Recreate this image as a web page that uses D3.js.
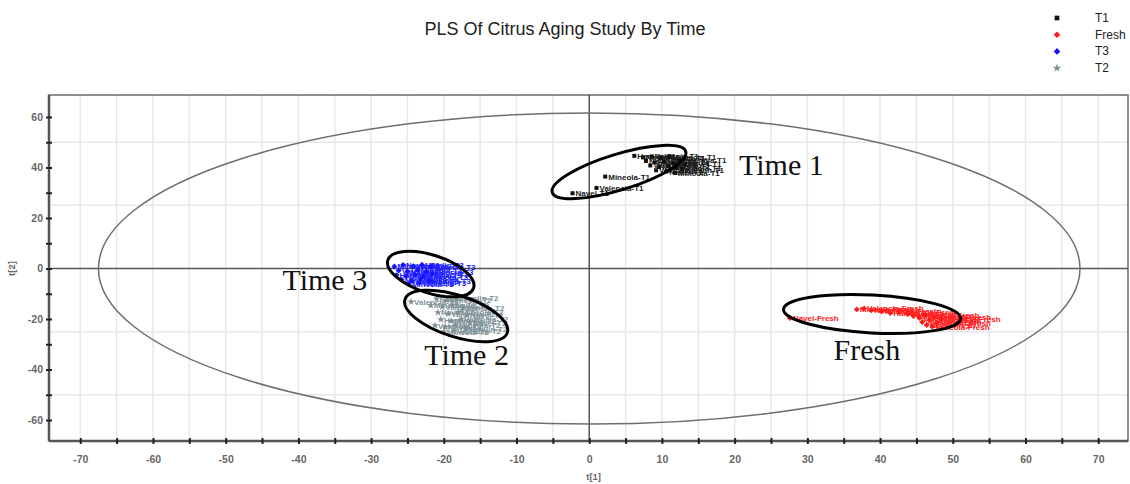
<!DOCTYPE html>
<html>
<head>
<meta charset="utf-8">
<script src="https://cdn.jsdelivr.net/npm/d3@7"></script>
<style>
  body { margin: 0; background: #fff; }
  svg { display: block; font-family: "Liberation Sans", Arial, sans-serif; }
</style>
</head>
<body>
<svg id="chart" width="1130" height="484"></svg>
<script>
const TITLE = "PLS Of Citrus Aging Study By Time";

// [t1, t2, sample label]
const t1Points = [
  [-2.3, 29.8, "Navel-T1"], [1.0, 31.9, "Valencia-T1"], [2.2, 36.4, "Mineola-T1"],
  [6.2, 44.6, "Hamlin-T1"], [7.4, 44.0, "Navel-T1"], [8.6, 44.4, "Valencia-T1"],
  [9.8, 43.6, "Mineola-T1"], [11.0, 44.1, "Valencia-T1"], [7.8, 42.6, "Navel-T1"],
  [9.0, 42.0, "Hamlin-T1"], [10.3, 42.4, "Mineola-T1"], [11.6, 41.7, "Navel-T1"],
  [12.4, 42.8, "Valencia-T1"], [8.4, 40.8, "Valencia-T1"], [9.6, 40.2, "Navel-T1"],
  [10.9, 40.6, "Hamlin-T1"], [12.0, 39.8, "Mineola-T1"], [9.2, 38.9, "Valencia-T1"],
  [10.6, 38.4, "Navel-T1"], [11.8, 37.9, "Mineola-T1"], [12.8, 39.2, "Hamlin-T1"],
  [13.2, 41.2, "Navel-T1"]
];

const freshPoints = [
  [27.6, -19.6, "Navel-Fresh"], [36.8, -16.2, "Mineola-Fresh"], [37.8, -15.8, "Valencia-Fresh"],
  [38.8, -16.6, "Navel-Fresh"], [40.2, -17.0, "Mineola-Fresh"], [41.4, -17.6, "Hamlin-Fresh"],
  [42.6, -17.2, "Valencia-Fresh"], [43.8, -18.0, "Navel-Fresh"], [44.6, -18.8, "Mineola-Fresh"],
  [45.4, -19.6, "Valencia-Fresh"], [46.2, -18.4, "Hamlin-Fresh"], [46.8, -20.4, "Navel-Fresh"],
  [47.4, -19.2, "Mineola-Fresh"], [45.8, -21.2, "Valencia-Fresh"], [47.8, -21.6, "Hamlin-Fresh"],
  [46.4, -22.4, "Navel-Fresh"], [47.2, -23.0, "Mineola-Fresh"], [48.4, -20.0, "Valencia-Fresh"]
];

const t3Points = [
  [-26.8, 0.8, "Mineola-T3"], [-25.6, 1.4, "Navel-T3"], [-24.2, 0.9, "Valencia-T3"],
  [-23.0, 1.5, "Hamlin-T3"], [-21.8, 0.6, "Mineola-T3"], [-26.2, -0.8, "Valencia-T3"],
  [-25.0, -1.2, "Navel-T3"], [-23.6, -0.6, "Mineola-T3"], [-22.4, -1.4, "Valencia-T3"],
  [-26.5, -2.6, "Hamlin-T3"], [-25.2, -3.0, "Navel-T3"], [-24.0, -2.4, "Valencia-T3"],
  [-22.8, -3.2, "Mineola-T3"], [-21.6, -2.2, "Navel-T3"], [-25.8, -4.4, "Mineola-T3"],
  [-24.4, -4.8, "Valencia-T3"], [-23.2, -4.2, "Navel-T3"], [-22.0, -4.9, "Hamlin-T3"],
  [-24.8, -6.0, "Mineola-T3"], [-23.4, -5.8, "Valencia-T3"]
];

const t2Points = [
  [-24.5, -13.2, "Valencia-T2"], [-21.0, -12.0, "Navel-T2"], [-19.6, -12.6, "Mineola-T2"],
  [-18.2, -11.8, "Hamlin-T2"], [-21.8, -14.6, "Mineola-T2"], [-20.2, -15.2, "Valencia-T2"],
  [-18.8, -14.4, "Navel-T2"], [-17.4, -15.6, "Hamlin-T2"], [-20.8, -17.4, "Navel-T2"],
  [-19.4, -18.0, "Valencia-T2"], [-18.0, -17.2, "Mineola-T2"], [-16.8, -18.6, "Navel-T2"],
  [-20.4, -20.2, "Hamlin-T2"], [-19.0, -20.8, "Mineola-T2"], [-17.6, -20.0, "Valencia-T2"],
  [-16.4, -21.4, "Navel-T2"], [-21.2, -22.6, "Valencia-T2"], [-19.8, -23.2, "Navel-T2"],
  [-18.4, -22.4, "Mineola-T2"], [-17.0, -23.8, "Hamlin-T2"], [-20.0, -25.0, "Mineola-T2"],
  [-18.6, -24.8, "Valencia-T2"]
];

const groupNames = ["T1", "Fresh", "T3", "T2"];

// Hotelling T2 ellipse semi-axes (t1, t2 units)
const hotelling = [67.5, 61.6];

const xTicks = d3.range(-70, 71, 5);
const yTicks = d3.range(-60, 61, 10);
const yGrid = [-50, -25, 25, 50];

// hand-drawn circles: [label, cx, cy, rx, ry, tilt]
const callouts = [
  ["Time 1", 4.1, 38.2, 9.6, 7.1, -17],
  ["Time 3", -21.8, -2.2, 6.2, 7.5, 18],
  ["Time 2", -18.3, -18.8, 7.4, 8.2, 18],
  ["Fresh", 38.9, -18.0, 12.2, 7.5, 3]
];
const calloutText = [
  ["Time 1", 20.6, 37.0],
  ["Time 3", -42.2, -8.5],
  ["Time 2", -22.7, -38.2],
  ["Fresh", 33.6, -36.2]
];

const LEFT = 49, RIGHT = 1128, TOP = 95, BOTTOM = 441;

const GROUPS = [
  { data: t1Points, color: "#111111", text: "#1a1a1a", symbol: d3.symbolSquare, size: 16 },
  { data: freshPoints, color: "#ff1a1a", text: "#ff2020", symbol: d3.symbolDiamond2, size: 22 },
  { data: t3Points, color: "#1414ff", text: "#2020ff", symbol: d3.symbolDiamond2, size: 22 },
  { data: t2Points, color: "#7c9096", text: "#7f9399", symbol: d3.symbolStar, size: 18 }
];

const svg = d3.select("#chart");

const x = d3.scaleLinear().domain([-74.3, 74.1]).range([LEFT, RIGHT]);
const y = d3.scaleLinear().domain([-68.3, 68.7]).range([BOTTOM, TOP]);

// grid
svg.append("g")
  .selectAll("line")
  .data(xTicks.filter((d) => d !== 0))
  .join("line")
  .attr("x1", (d) => x(d)).attr("x2", (d) => x(d))
  .attr("y1", TOP).attr("y2", BOTTOM)
  .attr("stroke", "#e8e8e8").attr("stroke-width", 1.5);

svg.append("g")
  .selectAll("line")
  .data(yGrid)
  .join("line")
  .attr("x1", LEFT).attr("x2", RIGHT)
  .attr("y1", (d) => y(d)).attr("y2", (d) => y(d))
  .attr("stroke", "#e8e8e8").attr("stroke-width", 1.5);

// frame
svg.append("rect")
  .attr("x", LEFT).attr("y", TOP)
  .attr("width", RIGHT - LEFT).attr("height", BOTTOM - TOP)
  .attr("fill", "none").attr("stroke", "#6a6a6a").attr("stroke-width", 1.5);

// zero lines
svg.append("line")
  .attr("x1", x(0)).attr("x2", x(0)).attr("y1", TOP).attr("y2", BOTTOM)
  .attr("stroke", "#555").attr("stroke-width", 1.5);
svg.append("line")
  .attr("x1", LEFT).attr("x2", RIGHT).attr("y1", y(0)).attr("y2", y(0))
  .attr("stroke", "#555").attr("stroke-width", 1.5);

// axes
const xAxis = svg.append("g")
  .attr("transform", `translate(0, ${BOTTOM})`)
  .call(d3.axisBottom(x).tickValues(xTicks).tickSize(3).tickFormat((d) => (d % 10 === 0 ? d : "")));
xAxis.select(".domain").attr("stroke", "#555").attr("stroke-width", 2.5)
  .attr("d", `M${LEFT},0H${RIGHT}`);
xAxis.selectAll(".tick line").attr("y1", -3).attr("y2", 3).attr("stroke", "#222").attr("stroke-width", 2);
xAxis.selectAll(".tick text").attr("y", 15).attr("font-size", 10.5).attr("font-weight", "bold").attr("fill", "#666");

const yAxis = svg.append("g")
  .attr("transform", `translate(${LEFT}, 0)`)
  .call(d3.axisLeft(y).tickValues(yTicks).tickSize(3).tickFormat((d) => (d % 20 === 0 ? d : "")));
yAxis.select(".domain").attr("stroke", "#555").attr("stroke-width", 2.5)
  .attr("d", `M0,${TOP}V${BOTTOM}`);
yAxis.selectAll(".tick line").attr("x1", -3).attr("x2", 3).attr("stroke", "#222").attr("stroke-width", 2);
yAxis.selectAll(".tick text").attr("x", -6).attr("font-size", 10.5).attr("font-weight", "bold").attr("fill", "#666");

svg.append("text")
  .attr("x", x(0) - 3).attr("y", 480)
  .attr("font-size", 9.5).attr("font-weight", "bold").attr("fill", "#666")
  .text("t[1]");
svg.append("text")
  .attr("transform", `translate(15, ${y(0)}) rotate(-90)`)
  .attr("text-anchor", "middle")
  .attr("font-size", 9.5).attr("font-weight", "bold").attr("fill", "#666")
  .text("t[2]");

// Hotelling ellipse
svg.append("ellipse")
  .attr("cx", x(0)).attr("cy", y(0))
  .attr("rx", x(hotelling[0]) - x(0))
  .attr("ry", y(0) - y(hotelling[1]))
  .attr("fill", "none").attr("stroke", "#6e6e6e").attr("stroke-width", 1.5);

// scores
GROUPS.forEach((g) => {
  const layer = svg.append("g");
  layer.selectAll("text")
    .data(g.data)
    .join("text")
    .attr("x", (d) => x(d[0]) + 3)
    .attr("y", (d) => y(d[1]) + 3)
    .attr("font-size", 8)
    .attr("font-weight", "bold")
    .attr("fill", g.text)
    .text((d) => d[2]);
  layer.selectAll("path")
    .data(g.data)
    .join("path")
    .attr("transform", (d) => `translate(${x(d[0])}, ${y(d[1])})`)
    .attr("d", d3.symbol(g.symbol, g.size))
    .attr("fill", g.color);
});

// callout circles
svg.append("g")
  .selectAll("ellipse")
  .data(callouts)
  .join("ellipse")
  .attr("transform", (d) => `translate(${x(d[1])}, ${y(d[2])}) rotate(${d[5]})`)
  .attr("rx", (d) => x(d[3]) - x(0))
  .attr("ry", (d) => y(0) - y(d[4]))
  .attr("fill", "none").attr("stroke", "#000").attr("stroke-width", 3);

svg.append("g")
  .selectAll("text")
  .data(calloutText)
  .join("text")
  .attr("x", (d) => x(d[1]))
  .attr("y", (d) => y(d[2]))
  .attr("font-family", "'Liberation Serif', 'DejaVu Serif', serif")
  .attr("font-size", 30)
  .attr("fill", "#111")
  .text((d) => d[0]);

// title
svg.append("text")
  .attr("x", 565).attr("y", 35)
  .attr("text-anchor", "middle")
  .attr("font-size", 18).attr("fill", "#222")
  .text(TITLE);

// legend
const legend = svg.append("g").attr("transform", "translate(1057, 18)");
groupNames.forEach((name, i) => {
  const g = GROUPS[i];
  legend.append("path")
    .attr("transform", `translate(0, ${i * 16.7})`)
    .attr("d", d3.symbol(g.symbol, g.size + 6))
    .attr("fill", g.color);
  legend.append("text")
    .attr("x", 38).attr("y", i * 16.7 + 4)
    .attr("font-size", 12).attr("fill", "#222")
    .text(name);
});
</script>
</body>
</html>
